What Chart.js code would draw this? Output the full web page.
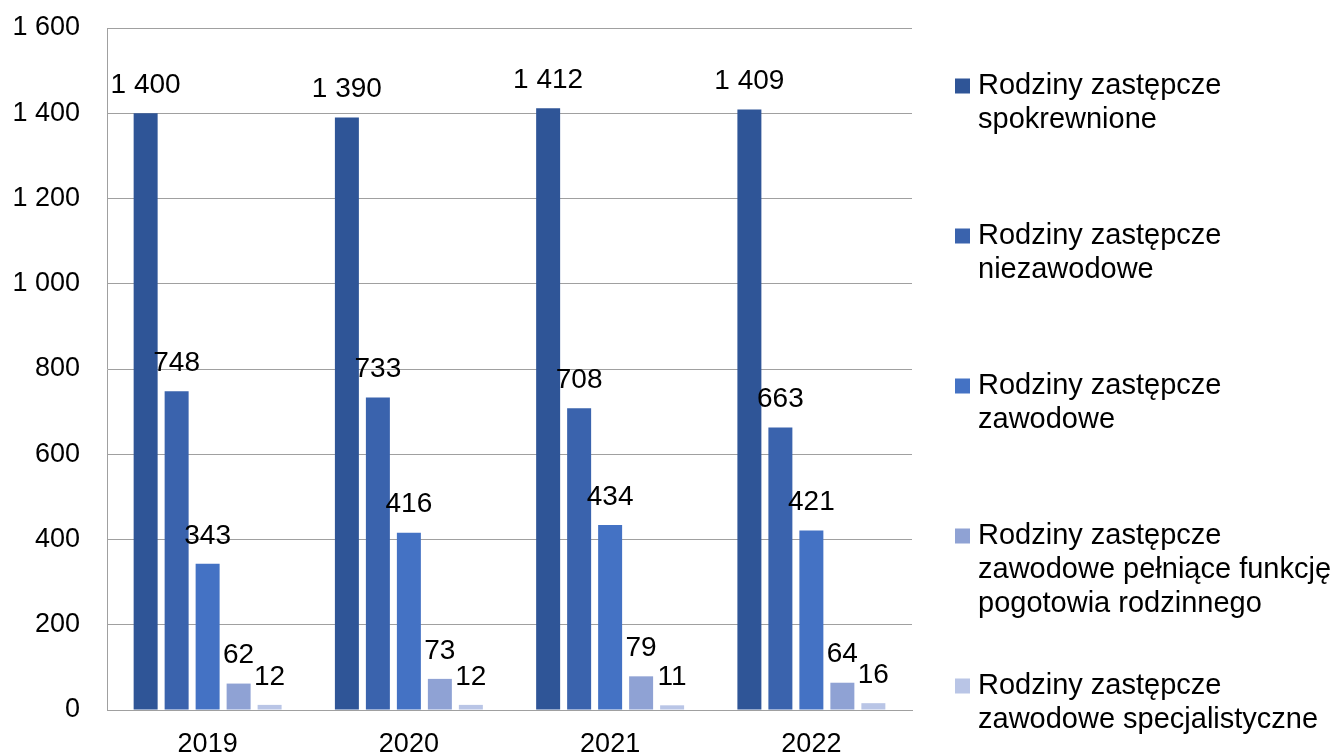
<!DOCTYPE html>
<html>
<head>
<meta charset="utf-8">
<script src="https://cdn.jsdelivr.net/npm/chart.js@4"></script>
<style>
  html, body { margin: 0; padding: 0; background: #fff; }
  #wrap { width: 1337px; height: 754px; }
</style>
</head>
<body>
<div id="wrap"><canvas id="rodzinyChart" width="1337" height="754"></canvas></div>
<script>
const lata = ["2019", "2020", "2021", "2022"];
const nazwy = [
  ["Rodziny zastępcze", "spokrewnione"],
  ["Rodziny zastępcze", "niezawodowe"],
  ["Rodziny zastępcze", "zawodowe"],
  ["Rodziny zastępcze", "zawodowe pełniące funkcję", "pogotowia rodzinnego"],
  ["Rodziny zastępcze", "zawodowe specjalistyczne"]
];
const spokrewnione = [1400, 1390, 1412, 1409];
const niezawodowe = [748, 733, 708, 663];
const zawodowe = [343, 416, 434, 421];
const pogotowie = [62, 73, 79, 64];
const specjalistyczne = [12, 12, 11, 16];
const kolory = ["#2F5597", "#3A63AD", "#4472C4", "#8FA2D4", "#B9C5E6"];

const FONT = "Arial, 'Liberation Sans', sans-serif";

function formatuj(v) {
  return String(v).replace(/\B(?=(\d{3})+(?!\d))/g, " ");
}

// etykiety nad slupkami
const etykiety = {
  id: "etykiety",
  afterDatasetsDraw(chart) {
    const ctx = chart.ctx;
    ctx.save();
    ctx.font = "28px " + FONT;
    ctx.fillStyle = "#000";
    ctx.textAlign = "center";
    ctx.textBaseline = "middle";
    chart.data.datasets.forEach((ds, i) => {
      chart.getDatasetMeta(i).data.forEach((el, j) => {
        ctx.fillText(formatuj(ds.data[j]), el.x, el.y - 28);
      });
    });
    ctx.restore();
  }
};

// legenda po prawej stronie
const legenda = {
  id: "legenda",
  afterDraw(chart) {
    const ctx = chart.ctx;
    ctx.save();
    ctx.font = "29px " + FONT;
    ctx.textBaseline = "middle";
    ctx.textAlign = "left";
    nazwy.forEach((linie, i) => {
      const y0 = 86 + 150 * i;
      ctx.fillStyle = kolory[i];
      ctx.fillRect(955, y0 - 7.5, 15, 15);
      ctx.fillStyle = "#000";
      linie.forEach((t, k) => ctx.fillText(t, 978, y0 + k * 34));
    });
    ctx.restore();
  }
};

const zbiory = [spokrewnione, niezawodowe, zawodowe, pogotowie, specjalistyczne];

new Chart(document.getElementById("rodzinyChart"), {
  type: "bar",
  data: {
    labels: lata,
    datasets: zbiory.map((d, i) => ({
      label: nazwy[i].join(" "),
      data: d,
      backgroundColor: kolory[i],
      categoryPercentage: 0.77,
      barPercentage: 0.774
    }))
  },
  options: {
    responsive: false,
    animation: false,
    layout: { padding: { top: 28, right: 425, left: 0, bottom: 0 } },
    plugins: {
      legend: { display: false },
      tooltip: { enabled: false }
    },
    scales: {
      x: {
        grid: { display: false, drawTicks: false },
        border: { color: "#A0A0A0", width: 1 },
        ticks: { color: "#000", font: { family: FONT, size: 27 }, padding: 18 },
        afterFit(s) { s.height = 44; s.paddingLeft = 0; s.paddingRight = 0; }
      },
      y: {
        min: 0,
        max: 1600,
        grid: { color: "#A0A0A0", lineWidth: 1, drawTicks: false },
        border: { color: "#A0A0A0", width: 1 },
        ticks: {
          stepSize: 200,
          color: "#000",
          font: { family: FONT, size: 27 },
          padding: 27,
          callback: (v) => formatuj(v)
        },
        afterFit(s) { s.width = 107; s.paddingTop = 0; s.paddingBottom = 0; }
      }
    }
  },
  plugins: [etykiety, legenda]
});
</script>
</body>
</html>
